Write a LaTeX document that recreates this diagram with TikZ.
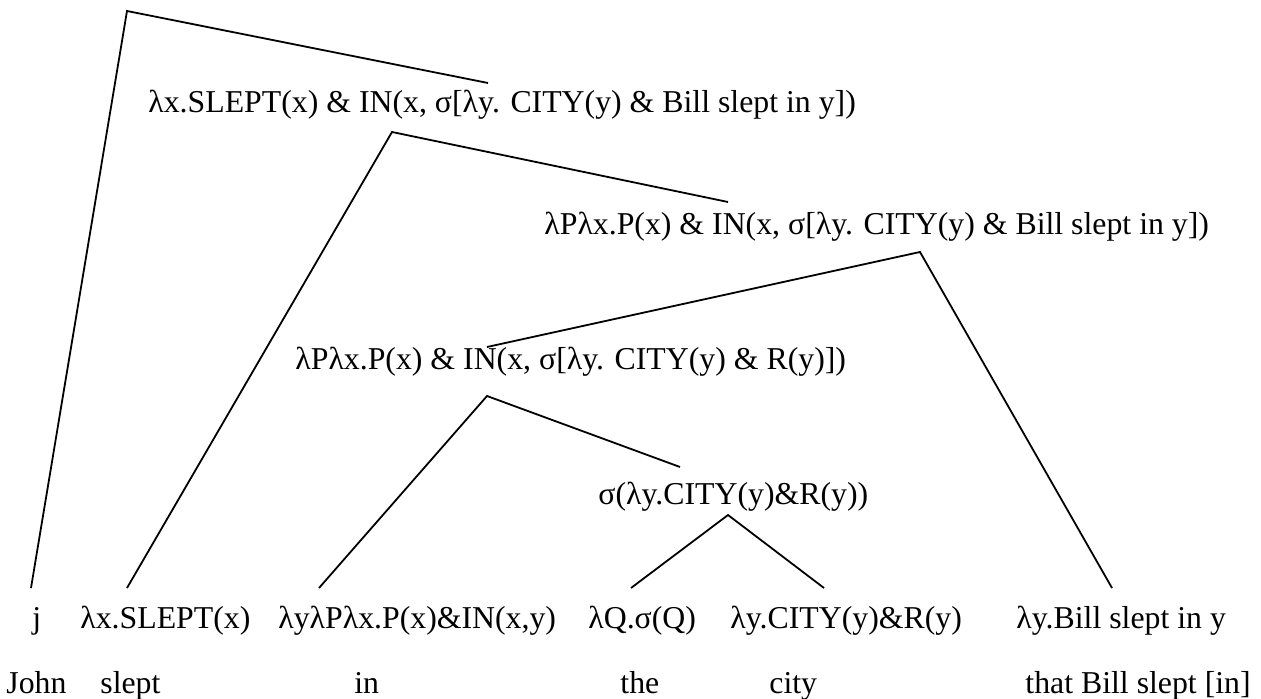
\documentclass[tikz,border=0pt]{standalone}
\usepackage{fontspec}
\setmainfont{Liberation Serif}
\begin{document}
\begin{tikzpicture}[x=0.5pt,y=-0.5pt,
  lbl/.style={inner sep=0pt, anchor=base west, font=\fontsize{15.9}{19}\selectfont},
  branch/.style={line width=0.9pt}]
\useasboundingbox (0,0) rectangle (1261,699);

% intermediate formulas
\node[lbl] (n1) at (148,113) {λx.SLEPT(x) \& IN(x, σ[λy. CITY(y) \& Bill slept in y])};
\node[lbl] (n2) at (544,235) {λPλx.P(x) \& IN(x, σ[λy. CITY(y) \& Bill slept in y])};
\node[lbl] (n3) at (295,370) {λPλx.P(x) \& IN(x, σ[λy. CITY(y) \& R(y)])};
\node[lbl] (n4) at (598,504) {σ(λy.CITY(y)\&R(y))};

% lexical meanings
\node[lbl] (lj)     at (32,628)   {j};
\node[lbl] (lslept) at (80,628)   {λx.SLEPT(x)};
\node[lbl] (lin)    at (278,628)  {λyλPλx.P(x)\&IN(x,y)};
\node[lbl] (lthe)   at (588,628)  {λQ.σ(Q)};
\node[lbl] (lcity)  at (730,628)  {λy.CITY(y)\&R(y)};
\node[lbl] (lrel)   at (1016,628) {λy.Bill slept in y};

% words
\node[lbl] (wjohn)  at (6,693)    {John};
\node[lbl] (wslept) at (100,693)  {slept};
\node[lbl] (win)    at (354,693)  {in};
\node[lbl] (wthe)   at (620,693)  {the};
\node[lbl] (wcity)  at (769,693)  {city};
\node[lbl] (wrel)   at (1025,693) {that Bill slept [in]};

% branching points and branch ends
\coordinate (r0) at (127,11);
\coordinate (r1) at (392,132);
\coordinate (r2) at (920,252);
\coordinate (r3) at (487,396);
\coordinate (r4) at (728,515);
\coordinate (e1) at (488,83);
\coordinate (e2) at (728,202);
\coordinate (e3) at (487,347);
\coordinate (e4) at (680,467);
\coordinate (tj)     at (31,588);
\coordinate (tslept) at (127,588);
\coordinate (tin)    at (319,588);
\coordinate (tthe)   at (631,588);
\coordinate (tcity)  at (824,588);
\coordinate (trel)   at (1112,588);

% branches
\draw[branch] (tj) -- (r0) -- (e1);
\draw[branch] (tslept) -- (r1) -- (e2);
\draw[branch] (e3) -- (r2) -- (trel);
\draw[branch] (tin) -- (r3) -- (e4);
\draw[branch] (tthe) -- (r4) -- (tcity);
\end{tikzpicture}
\end{document}
